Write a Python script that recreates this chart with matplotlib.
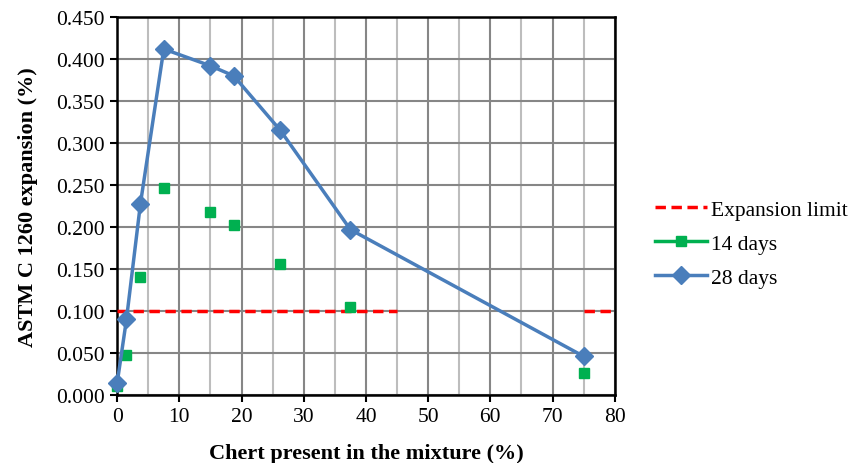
import numpy as np
import matplotlib
matplotlib.use('Agg')
from matplotlib import pyplot as plt
from matplotlib.lines import Line2D

# data
chert_pct = [0, 1.5, 3.75, 7.5, 15, 18.75, 26.25, 37.5, 75]
exp_14d = [0.011, 0.048, 0.141, 0.246, 0.218, 0.203, 0.156, 0.105, 0.026]
exp_28d = [0.014, 0.090, 0.228, 0.412, 0.392, 0.380, 0.315, 0.197, 0.046]
limit_x = [0, 45, np.nan, 75, 80]
limit_y = [0.1, 0.1, np.nan, 0.1, 0.1]

plt.rcParams['font.family'] = ['Liberation Serif', 'DejaVu Serif']
plt.rcParams['font.size'] = 15.5

blue = '#4A7EBB'
green = '#00B050'
red = '#FF0000'

fig = plt.figure(figsize=(8.55, 4.64), dpi=100)
ax = fig.add_axes([0.137, 0.1466, 0.582, 0.8144])

ax.plot(limit_x, limit_y, color=red, linestyle=(0, (3, 1.6)), linewidth=2.5, zorder=3)
ax.plot(chert_pct, exp_14d, linestyle='none', marker='s', markersize=7,
        color=green, zorder=4, clip_on=False)
ax.plot(chert_pct, exp_28d, color=blue, linewidth=2.5, marker='D',
        markersize=9, zorder=5, clip_on=False)

ax.set_xlim(0, 80)
ax.set_ylim(0, 0.45)
ax.set_xticks(np.arange(0, 81, 10))
ax.set_xticks(np.arange(5, 80, 10), minor=True)
ax.set_yticks(np.arange(0, 0.451, 0.05))
ax.set_yticklabels([f'{v:.3f}' for v in np.arange(0, 0.451, 0.05)])

ax.grid(True, which='major', axis='both', color='#868686', linewidth=1.5, zorder=0)
ax.grid(True, which='minor', axis='x', color='#BDBDBD', linewidth=1.5, zorder=0)
ax.set_axisbelow(True)
ax.tick_params(which='major', direction='out', length=5, width=1.5,
               labelsize=15.5, pad=4)
ax.tick_params(which='minor', length=0)
for s in ax.spines.values():
    s.set_linewidth(1.8)
    s.set_color('black')

ax.set_xlabel('Chert present in the mixture (%)', fontweight='bold', fontsize=16, labelpad=12)
ax.set_ylabel('ASTM C 1260 expansion (%)', fontweight='bold', fontsize=16, labelpad=13)

handles = [
    Line2D([], [], color=red, linestyle=(0, (3, 1.6)), linewidth=2.5),
    Line2D([], [], color=green, linewidth=2.5, marker='s', markersize=7),
    Line2D([], [], color=blue, linewidth=2.5, marker='D', markersize=9),
]
fig.legend(handles, ['Expansion limit', '14 days', '28 days'],
           loc='upper left', bbox_to_anchor=(0.744, 0.609), frameon=False,
           fontsize=15.5, handlelength=2.4, handletextpad=0.2, labelspacing=0.65)

fig.savefig('out.png', dpi=100)
